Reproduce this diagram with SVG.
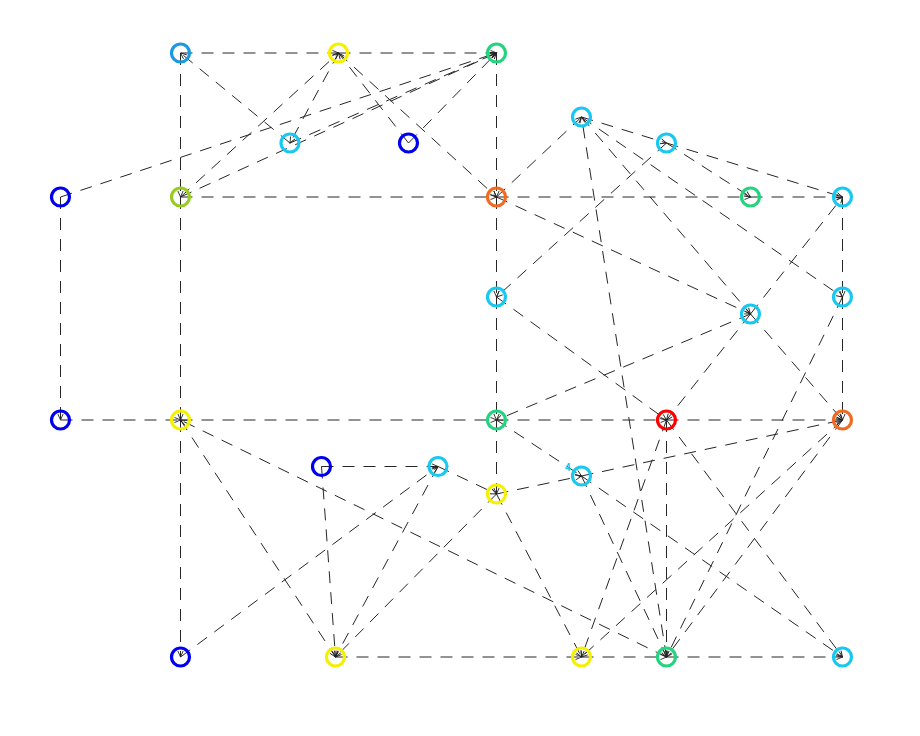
<svg xmlns="http://www.w3.org/2000/svg" width="920" height="736" viewBox="0 0 920 736">
<defs>
<marker id="ah" markerUnits="userSpaceOnUse" markerWidth="12" markerHeight="12" viewBox="-8 -6 10 12" refX="0" refY="0" orient="auto">
<path d="M-6,-2.6 L0,0 L-6,2.6" fill="none" stroke="#222" stroke-width="0.9"/>
</marker>
</defs>
<style>
.e{stroke:#262626;stroke-width:1;stroke-dasharray:12 9;fill:none;marker-end:url(#ah)}
.n{fill:none;stroke-width:3.2}
.blue{stroke:#0000ee}.dblue{stroke:#1b98e0}.cyan{stroke:#19c8f0}.green{stroke:#22d47e}
.yellow{stroke:#f5f000}.ygreen{stroke:#99cc22}.orange{stroke:#f26a22}.red{stroke:#ff0000}
.lbl{font-family:"Liberation Sans",Arial,sans-serif;font-size:10px;font-weight:bold;fill:#19c8f0}
</style>
<rect width="920" height="736" fill="#ffffff"/>
<g id="edges">
<line class="e" x1="180.5" y1="53" x2="338.5" y2="53"/>
<line class="e" x1="338.5" y1="53" x2="496.5" y2="53"/>
<line class="e" x1="180.5" y1="53" x2="180.5" y2="197"/>
<line class="e" x1="180.5" y1="197" x2="180.5" y2="420"/>
<line class="e" x1="180.5" y1="420" x2="180.5" y2="657"/>
<line class="e" x1="496.5" y1="53" x2="496.5" y2="197"/>
<line class="e" x1="496.5" y1="197" x2="496.5" y2="297"/>
<line class="e" x1="496.5" y1="297" x2="496.5" y2="420"/>
<line class="e" x1="496.5" y1="420" x2="496.5" y2="494"/>
<line class="e" x1="60.5" y1="197" x2="60.5" y2="420"/>
<line class="e" x1="60.5" y1="420" x2="180.5" y2="420"/>
<line class="e" x1="180.5" y1="420" x2="496.5" y2="420"/>
<line class="e" x1="496.5" y1="420" x2="666.5" y2="420"/>
<line class="e" x1="666.5" y1="420" x2="842.5" y2="420"/>
<line class="e" x1="180.5" y1="197" x2="496.5" y2="197"/>
<line class="e" x1="496.5" y1="197" x2="750.5" y2="197"/>
<line class="e" x1="750.5" y1="197" x2="842.5" y2="197"/>
<line class="e" x1="842.5" y1="197" x2="842.5" y2="297"/>
<line class="e" x1="842.5" y1="297" x2="842.5" y2="420"/>
<line class="e" x1="321.5" y1="466.5" x2="438" y2="466.5"/>
<line class="e" x1="335.5" y1="657" x2="581.5" y2="657"/>
<line class="e" x1="581.5" y1="657" x2="666.5" y2="657"/>
<line class="e" x1="666.5" y1="657" x2="842.5" y2="657"/>
<line class="e" x1="290" y1="143" x2="180.5" y2="53"/>
<line class="e" x1="338.5" y1="53" x2="290" y2="143"/>
<line class="e" x1="408.5" y1="143" x2="338.5" y2="53"/>
<line class="e" x1="338.5" y1="53" x2="496.5" y2="197"/>
<line class="e" x1="180.5" y1="197" x2="338.5" y2="53"/>
<line class="e" x1="290" y1="143" x2="496.5" y2="53"/>
<line class="e" x1="408.5" y1="143" x2="496.5" y2="53"/>
<line class="e" x1="180.5" y1="197" x2="496.5" y2="53"/>
<line class="e" x1="60.5" y1="197" x2="496.5" y2="53"/>
<line class="e" x1="496.5" y1="197" x2="581.5" y2="117"/>
<line class="e" x1="581.5" y1="117" x2="666.5" y2="143"/>
<line class="e" x1="666.5" y1="143" x2="842.5" y2="197"/>
<line class="e" x1="581.5" y1="117" x2="842.5" y2="297"/>
<line class="e" x1="581.5" y1="117" x2="750.5" y2="314"/>
<line class="e" x1="666.5" y1="657" x2="581.5" y2="117"/>
<line class="e" x1="666.5" y1="143" x2="750.5" y2="197"/>
<line class="e" x1="666.5" y1="143" x2="496.5" y2="297"/>
<line class="e" x1="496.5" y1="197" x2="750.5" y2="314"/>
<line class="e" x1="750.5" y1="314" x2="842.5" y2="197"/>
<line class="e" x1="750.5" y1="314" x2="496.5" y2="420"/>
<line class="e" x1="750.5" y1="314" x2="666.5" y2="420"/>
<line class="e" x1="750.5" y1="314" x2="842.5" y2="420"/>
<line class="e" x1="496.5" y1="297" x2="666.5" y2="420"/>
<line class="e" x1="842.5" y1="297" x2="666.5" y2="657"/>
<line class="e" x1="496.5" y1="420" x2="581.5" y2="476"/>
<line class="e" x1="496.5" y1="494" x2="581.5" y2="476"/>
<line class="e" x1="581.5" y1="476" x2="842.5" y2="420"/>
<line class="e" x1="581.5" y1="476" x2="666.5" y2="657"/>
<line class="e" x1="581.5" y1="476" x2="842.5" y2="657"/>
<line class="e" x1="666.5" y1="420" x2="581.5" y2="657"/>
<line class="e" x1="666.5" y1="420" x2="666.5" y2="657"/>
<line class="e" x1="666.5" y1="420" x2="842.5" y2="657"/>
<line class="e" x1="842.5" y1="420" x2="581.5" y2="657"/>
<line class="e" x1="842.5" y1="420" x2="666.5" y2="657"/>
<line class="e" x1="180.5" y1="420" x2="335.5" y2="657"/>
<line class="e" x1="666.5" y1="657" x2="180.5" y2="420"/>
<line class="e" x1="321.5" y1="466.5" x2="335.5" y2="657"/>
<line class="e" x1="438" y1="466.5" x2="335.5" y2="657"/>
<line class="e" x1="496.5" y1="494" x2="335.5" y2="657"/>
<line class="e" x1="438" y1="466.5" x2="496.5" y2="494"/>
<line class="e" x1="180.5" y1="657" x2="438" y2="466.5"/>
<line class="e" x1="496.5" y1="494" x2="581.5" y2="657"/>
</g>
<g id="n-a"><circle class="n dblue" cx="180.5" cy="53" r="9"/></g>
<g id="n-b"><circle class="n yellow" cx="338.5" cy="53" r="9"/></g>
<g id="n-c"><circle class="n green" cx="496.5" cy="53" r="9"/></g>
<g id="n-d"><circle class="n cyan" cx="290" cy="143" r="9"/></g>
<g id="n-e"><circle class="n blue" cx="408.5" cy="143" r="9"/></g>
<g id="n-f"><circle class="n cyan" cx="581.5" cy="117" r="9"/></g>
<g id="n-g"><circle class="n cyan" cx="666.5" cy="143" r="9"/></g>
<g id="n-h"><circle class="n blue" cx="60.5" cy="197" r="9"/></g>
<g id="n-i"><circle class="n ygreen" cx="180.5" cy="197" r="9"/></g>
<g id="n-j"><circle class="n orange" cx="496.5" cy="197" r="9"/></g>
<g id="n-k"><circle class="n green" cx="750.5" cy="197" r="9"/></g>
<g id="n-l"><circle class="n cyan" cx="842.5" cy="197" r="9"/></g>
<g id="n-m"><circle class="n cyan" cx="496.5" cy="297" r="9"/></g>
<g id="n-n"><circle class="n cyan" cx="842.5" cy="297" r="9"/></g>
<g id="n-o"><circle class="n cyan" cx="750.5" cy="314" r="9"/></g>
<g id="n-p"><circle class="n blue" cx="60.5" cy="420" r="9"/></g>
<g id="n-q"><circle class="n yellow" cx="180.5" cy="420" r="9"/></g>
<g id="n-r"><circle class="n green" cx="496.5" cy="420" r="9"/></g>
<g id="n-s"><circle class="n red" cx="666.5" cy="420" r="9"/></g>
<g id="n-t"><circle class="n orange" cx="842.5" cy="420" r="9"/></g>
<g id="n-u"><circle class="n blue" cx="321.5" cy="466.5" r="9"/></g>
<g id="n-v"><circle class="n cyan" cx="438" cy="466.5" r="9"/></g>
<g id="n-w"><circle class="n cyan" cx="581.5" cy="476" r="9"/><text class="lbl" x="565" y="471">4</text></g>
<g id="n-x"><circle class="n yellow" cx="496.5" cy="494" r="9"/></g>
<g id="n-y"><circle class="n blue" cx="180.5" cy="657" r="9"/></g>
<g id="n-z"><circle class="n yellow" cx="335.5" cy="657" r="9"/></g>
<g id="n-aa"><circle class="n yellow" cx="581.5" cy="657" r="9"/></g>
<g id="n-ab"><circle class="n green" cx="666.5" cy="657" r="9"/></g>
<g id="n-ac"><circle class="n cyan" cx="842.5" cy="657" r="9"/></g>
</svg>
